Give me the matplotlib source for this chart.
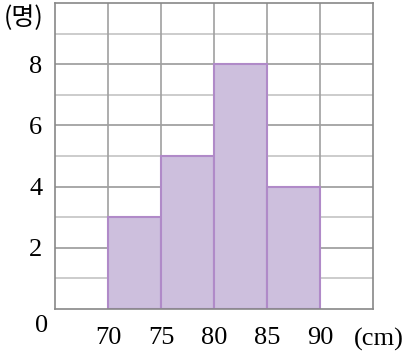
import matplotlib
matplotlib.use('Agg')
import matplotlib.pyplot as plt

edges = [70, 75, 80, 85, 90]
counts = [3, 5, 8, 4]
x_ticks = [70, 75, 80, 85, 90]
y_ticks = [2, 4, 6, 8]

plt.rcParams['font.family'] = ['Liberation Serif', 'Noto Sans CJK KR']

fig = plt.figure(figsize=(4.13, 3.57), dpi=100)
ax = fig.add_axes([55/413, 48/357, 318/413, 306/357])

# 격자
for y in range(1, 10):
    c = '#9a9a9a' if y % 2 == 0 else '#c4c4c4'
    ax.axhline(y, color=c, lw=1.2, zorder=0)
for x in range(70, 95, 5):
    ax.axvline(x, color='#a0a0a0', lw=1.2, zorder=0)

ax.bar(edges[:-1], counts, width=5, align='edge', color='#cdbfdd',
       edgecolor='#b08ac8', lw=1.5, zorder=2)

ax.set_xlim(65, 95)
ax.set_ylim(0, 10)
for s in ax.spines.values():
    s.set_color('#888888')
    s.set_linewidth(1.2)

ax.set_xticks(x_ticks)
ax.set_yticks(y_ticks)
ax.tick_params(length=0, labelsize=19)
ax.tick_params(axis='x', pad=13)
ax.tick_params(axis='y', pad=9)

fig.text(42/413, 1 - 326/357, '0', fontsize=19, ha='center', va='center')
fig.text(354/413, 1 - 339/357, '(cm)', fontsize=19, ha='left', va='center')
fig.text(24/413, 1 - 18/357, '(명)', fontsize=18, ha='center', va='center',
         family=['Noto Sans CJK KR'])

fig.savefig('out.png', dpi=100)
